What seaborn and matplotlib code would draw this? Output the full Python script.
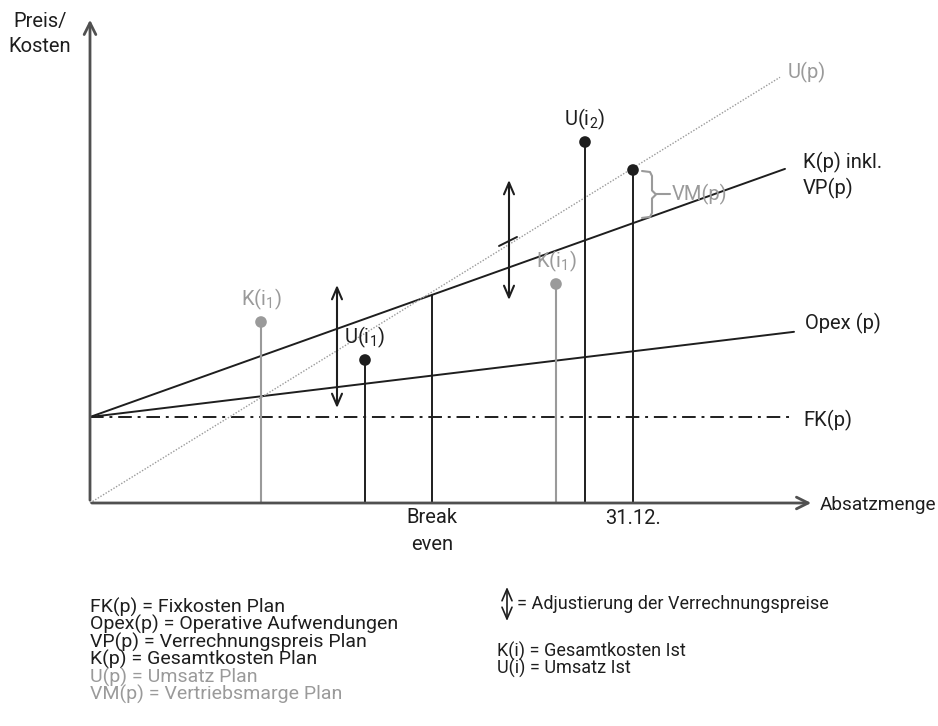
import numpy as np
import pandas as pd
import matplotlib
matplotlib.use("Agg")
import matplotlib.pyplot as plt
import seaborn as sns

# ---------------- data (conceptual units: x = Absatzmenge, y = Preis/Kosten) -------------
fk_level = 86.0                 # Fixkosten Plan
opex_slope = 0.121              # Opex(p)
kp_slope = 0.357                # K(p) inkl. VP(p)
up_slope = 0.617                # U(p) Umsatz Plan
line_x_end = {"FK": 700, "Opex": 704, "K": 695, "U": 690}

ist_names = ["K(i1)_a", "U(i1)", "K(i1)_b", "U(i2)", "U(31.12.)"]
ist_x = [171, 275, 466, 495, 543]
ist_y = [181, 143, 219, 361, 333]
ist_gray = [True, False, True, False, False]
ist_labels = [r"K(i$_1$)", r"U(i$_1$)", r"K(i$_1$)", r"U(i$_2$)", ""]

breakeven_x = 342
adj_arrow_x = [247, 419]
adj_arrow_lo = [95, 203]
adj_arrow_hi = [218, 323]

legend_left = ["FK(p) = Fixkosten Plan",
               "Opex(p) = Operative Aufwendungen",
               "VP(p) = Verrechnungspreis Plan",
               "K(p) = Gesamtkosten Plan",
               "U(p) = Umsatz Plan",
               "VM(p) = Vertriebsmarge Plan"]
legend_left_gray = [False, False, False, False, True, True]
legend_right = ["K(i) = Gesamtkosten Ist", "U(i) = Umsatz Ist"]

# ---------------- style -------------
sns.set_theme(style="white")
plt.rcParams["font.family"] = ["Roboto", "DejaVu Sans"]
plt.rcParams["mathtext.default"] = "regular"

BLACK = "#1e1e1e"
GRAY = "#9a9a9a"
AXC = "#505050"
FS = 13.5

fig = plt.figure(figsize=(9.38, 7.26), dpi=100)
ax = fig.add_axes([0, 0, 1, 1])
ax.set_xlim(-90, 848)
ax.set_ylim(-223, 503)
ax.axis("off")

# ---------------- plan lines -------------
def lin(x0, x1, b, m):
    xs = np.array([x0, x1], dtype=float)
    return pd.DataFrame({"x": xs, "y": b + m * xs})

d = lin(0, line_x_end["FK"], fk_level, 0.0)
sns.lineplot(data=d, x="x", y="y", ax=ax, color=BLACK, lw=1.4, dashes=[(7, 3, 1.5, 3)], style=[0, 0], legend=False)
d = lin(0, line_x_end["Opex"], fk_level, opex_slope)
sns.lineplot(data=d, x="x", y="y", ax=ax, color=BLACK, lw=1.4)
d = lin(0, line_x_end["K"], fk_level, kp_slope)
sns.lineplot(data=d, x="x", y="y", ax=ax, color=BLACK, lw=1.4)
d = lin(0, line_x_end["U"], 0.0, up_slope)
ax.plot(d["x"], d["y"], color=GRAY, lw=1.0, ls=(0, (1, 1.2)))

# ---------------- axes arrows -------------
ax.annotate("", xy=(0, 486), xytext=(0, 0),
            arrowprops=dict(arrowstyle="->,head_length=0.7,head_width=0.35", color=AXC, lw=2))
ax.annotate("", xy=(724, 0), xytext=(-1, 0),
            arrowprops=dict(arrowstyle="->,head_length=0.7,head_width=0.35", color=AXC, lw=2))

# ---------------- break even -------------
ax.plot([breakeven_x, breakeven_x], [0, fk_level + kp_slope * breakeven_x], color=BLACK, lw=1.4)

# ---------------- Ist values -------------
for xv, yv, g in zip(ist_x, ist_y, ist_gray):
    ax.plot([xv, xv], [0, yv], color=GRAY if g else BLACK, lw=1.5 if g else 1.4)
ist_df = pd.DataFrame({"x": ist_x, "y": ist_y, "g": ist_gray})
sns.scatterplot(data=ist_df, x="x", y="y", hue="g", palette={True: GRAY, False: BLACK},
                s=70, edgecolor="none", ax=ax, legend=False, zorder=5)
for xv, yv, lab, g in zip(ist_x, ist_y, ist_labels, ist_gray):
    if lab:
        ax.text(xv, yv + 10, lab, ha="center", va="bottom", fontsize=FS + 1,
                color=GRAY if g else BLACK)

# ---------------- adjustment arrows -------------
for xv, lo, hi in zip(adj_arrow_x, adj_arrow_lo, adj_arrow_hi):
    ax.annotate("", xy=(xv, hi), xytext=(xv, lo),
                arrowprops=dict(arrowstyle="<->,head_length=0.7,head_width=0.3", color=BLACK, lw=1.5,
                                shrinkA=0, shrinkB=0))
# small tick on second arrow
tx = adj_arrow_x[1]
ax.plot([tx - 10, tx + 8], [tx * up_slope - 1.5, tx * up_slope + 7.5], color=BLACK, lw=1.4)

# ---------------- VM bracket -------------
bx = 552
top = ist_y[4] - 1
bot = fk_level + kp_slope * bx + 2
mid = (top + bot) / 2
brace_x = [bx, bx + 8, bx + 10, bx + 10, bx + 14, bx + 10, bx + 10, bx + 8, bx]
brace_y = [top, top - 1, top - 5, mid + 4, mid, mid - 4, bot + 5, bot + 1, bot]
ax.plot(brace_x, brace_y, color=GRAY, lw=1.5)
ax.plot([bx + 14, bx + 28], [mid, mid], color=GRAY, lw=1.5)
ax.text(bx + 30, mid, "VM(p)", ha="left", va="center", fontsize=FS + 1, color=GRAY)

# ---------------- text labels -------------
ax.text(-50, 469, "Preis/\nKosten", ha="center", va="center", fontsize=FS + 1, color=BLACK, linespacing=1.4)
ax.text(698, 431, "U(p)", ha="left", va="center", fontsize=FS + 1, color=GRAY)
ax.text(713, 328, "K(p) inkl.\nVP(p)", ha="left", va="center", fontsize=FS + 1, color=BLACK, linespacing=1.3)
ax.text(715, 180, "Opex (p)", ha="left", va="center", fontsize=FS + 1, color=BLACK)
ax.text(713, 83, "FK(p)", ha="left", va="center", fontsize=FS + 1, color=BLACK)
ax.text(730, -2, "Absatzmenge", ha="left", va="center", fontsize=FS + 0.2, color=BLACK)
ax.text(breakeven_x, -28, "Break\neven", ha="center", va="center", fontsize=FS + 1, color=BLACK, linespacing=1.5)
ax.text(ist_x[4], -15, "31.12.", ha="center", va="center", fontsize=FS + 1, color=BLACK)

# ---------------- legend -------------
for i, (t, g) in enumerate(zip(legend_left, legend_left_gray)):
    ax.text(0, -104 - 17.5 * i, t, ha="left", va="center", fontsize=FS + 0.5, color=GRAY if g else BLACK)
ax.annotate("", xy=(417, -84), xytext=(417, -118),
            arrowprops=dict(arrowstyle="<->,head_length=0.7,head_width=0.3", color=BLACK, lw=1.2,
                            shrinkA=0, shrinkB=0))
ax.text(427, -101, "= Adjustierung der Verrechnungspreise", ha="left", va="center", fontsize=FS - 0.5, color=BLACK)
for i, t in enumerate(legend_right):
    ax.text(407, -148 - 17.5 * i, t, ha="left", va="center", fontsize=FS - 0.5, color=BLACK)

fig.savefig("out.png", dpi=100)
